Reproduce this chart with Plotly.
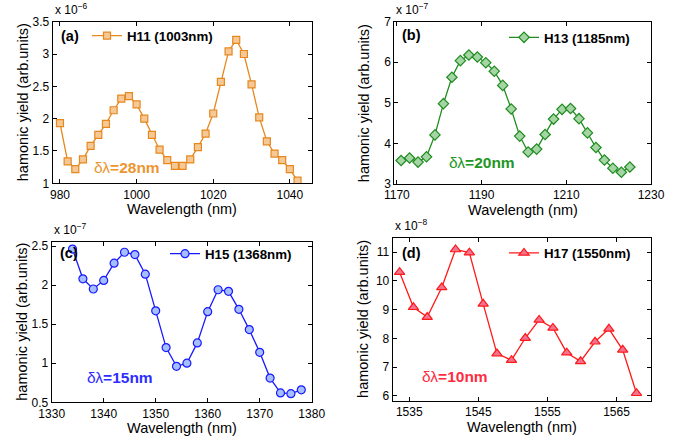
import plotly.graph_objects as go

W, H = 690, 442
FONT = "Liberation Sans"

# ---------------- data ----------------
wl_a = [980, 982, 984, 986, 988, 990, 992, 994, 996, 998, 1000, 1002, 1004, 1006, 1008, 1010,
        1012, 1014, 1016, 1018, 1020, 1022, 1024, 1026, 1028, 1030, 1032, 1034, 1036, 1038, 1040, 1042]
y_a = [1.93, 1.34, 1.22, 1.37, 1.58, 1.75, 1.92, 2.13, 2.31, 2.35, 2.22, 2.00, 1.75, 1.52, 1.36, 1.27,
       1.27, 1.37, 1.56, 1.77, 2.08, 2.57, 3.04, 3.22, 3.00, 2.53, 2.02, 1.65, 1.46, 1.36, 1.22, 1.04]

wl_b = [1171, 1173, 1175, 1177, 1179, 1181, 1183, 1185, 1187, 1189, 1191, 1193, 1195, 1197,
        1199, 1201, 1203, 1205, 1207, 1209, 1211, 1213, 1215, 1217, 1219, 1221, 1223, 1225]
y_b = [3.58, 3.64, 3.54, 3.67, 4.21, 4.98, 5.63, 6.04, 6.18, 6.13, 5.99, 5.78, 5.43, 4.85,
       4.18, 3.79, 3.86, 4.22, 4.60, 4.84, 4.86, 4.61, 4.26, 3.90, 3.59, 3.39, 3.29, 3.42]

wl_c = [1334, 1336, 1338, 1340, 1342, 1344, 1346, 1348, 1350, 1352, 1354, 1356,
        1358, 1360, 1362, 1364, 1366, 1368, 1370, 1372, 1374, 1376, 1378]
y_c = [2.46, 2.08, 1.95, 2.06, 2.28, 2.42, 2.39, 2.14, 1.67, 1.20, 0.96, 1.00,
       1.26, 1.66, 1.94, 1.92, 1.69, 1.43, 1.14, 0.81, 0.62, 0.61, 0.66]

wl_d = [1533.6, 1535.6, 1537.6, 1539.7, 1541.7, 1543.7, 1545.7, 1547.7, 1549.8,
        1551.8, 1553.8, 1555.8, 1557.8, 1559.8, 1561.9, 1563.9, 1565.9, 1567.9]
y_d = [10.30, 9.08, 8.74, 9.77, 11.09, 10.98, 9.20, 7.47, 7.24,
       8.01, 8.64, 8.36, 7.50, 7.20, 7.88, 8.33, 7.60, 6.09]

names = ["H11 (1003nm)", "H13 (1185nm)", "H15 (1368nm)", "H17 (1550nm)"]
panel_labels = ["(a)", "(b)", "(c)", "(d)"]
dl_labels = ["28nm", "20nm", "15nm", "10nm"]
exponents = ["−6", "−7", "−7", "−8"]

xticks = [[980, 1000, 1020, 1040], [1170, 1190, 1210, 1230],
          [1330, 1340, 1350, 1360, 1370, 1380], [1535, 1545, 1555, 1565]]
yticks = [[1, 1.5, 2, 2.5, 3, 3.5], [3, 4, 5, 6, 7],
          [0.5, 1, 1.5, 2, 2.5], [6, 7, 8, 9, 10, 11]]
xranges = [[978.1, 1045.7], [1169.4, 1230], [1330, 1380], [1532.6, 1570]]
yranges = [[1, 3.5], [3, 7], [0.5, 2.555], [5.83, 11.5]]

# ---------------- style ----------------
line_cols = ["rgb(230,136,30)", "rgb(30,140,30)", "rgb(25,25,255)", "rgb(255,25,25)"]
fill_cols = ["rgb(246,200,150)", "rgb(165,212,165)", "rgb(165,190,255)", "rgb(242,115,145)"]
text_cols = ["rgb(236,150,50)", "rgb(35,150,35)", "rgb(45,45,255)", "rgb(255,45,65)"]
symbols = ["square", "diamond", "circle", "triangle-up"]
msizes = [7, 8, 8, 9]

def fx(px):
    return px / W

def fy(py):
    return 1 - py / H

# plot boxes in pixels: (left, right, top, bottom)
boxes = [(52.7, 311.7, 21.7, 183.3), (394.3, 651, 21.7, 184),
         (51.7, 311.7, 241.7, 402.3), (392.7, 651, 237.7, 400.7)]

xs = [wl_a, wl_b, wl_c, wl_d]
ys = [y_a, y_b, y_c, y_d]

fig = go.Figure()
for i in range(4):
    sfx = "" if i == 0 else str(i + 1)
    fig.add_trace(go.Scatter(
        x=xs[i], y=ys[i], mode="lines+markers", name=names[i],
        xaxis="x" + sfx, yaxis="y" + sfx, legend="legend" + sfx, showlegend=True,
        line=dict(color=line_cols[i], width=1.3),
        marker=dict(symbol=symbols[i], size=msizes[i], color=fill_cols[i],
                    line=dict(color=line_cols[i], width=1.2)),
    ))

layout = dict(width=W, height=H, margin=dict(l=0, r=0, t=0, b=0, autoexpand=False),
              showlegend=True,
              paper_bgcolor="white", plot_bgcolor="white",
              font=dict(family=FONT, color="black", size=12))

axis_common = dict(showgrid=False, zeroline=False, showline=True, linecolor="black",
                   linewidth=1, mirror="ticks", ticks="inside", ticklen=4,
                   tickcolor="black", tickwidth=1, automargin=False,
                   tickfont=dict(family=FONT, size=12, color="black"))

legend_pos = [(87, 36), (504, 37.7), (165, 254), (504, 253.3)]
annotations = []
for i in range(4):
    sfx = "" if i == 0 else str(i + 1)
    l, r, t, b = boxes[i]
    layout["xaxis" + sfx] = dict(axis_common, domain=[fx(l), fx(r)], range=xranges[i],
                                 anchor="y" + sfx, tickmode="array", tickvals=xticks[i],
                                 ticktext=[str(v) for v in xticks[i]])
    layout["yaxis" + sfx] = dict(axis_common, domain=[fy(b), fy(t)], range=yranges[i],
                                 anchor="x" + sfx, tickmode="array", tickvals=yticks[i],
                                 ticktext=[("%g" % v) for v in yticks[i]])
    lx, ly = legend_pos[i]
    layout["legend" + sfx] = dict(x=fx(lx), y=fy(ly), xanchor="left", yanchor="middle",
                                  visible=True,
                                  bgcolor="rgba(0,0,0,0)", borderwidth=0,
                                  font=dict(family=FONT, size=13.3, color="black", weight="bold"))
    cx = (l + r) / 2
    # axis titles
    annotations.append(dict(text="Wavelength (nm)", x=fx(cx), y=fy(b + 26), xref="paper", yref="paper",
                            showarrow=False, xanchor="center", yanchor="middle",
                            font=dict(family=FONT, size=14.5, color="black")))
    annotations.append(dict(text="hamonic yield (arb.units)", x=fx(l - 30), y=fy((t + b) / 2),
                            xref="paper", yref="paper", showarrow=False, textangle=-90,
                            xanchor="center", yanchor="middle",
                            font=dict(family=FONT, size=14.5, color="black")))
    # exponent label
    annotations.append(dict(text="x 10<sup>%s</sup>" % exponents[i], x=fx(l), y=fy(t - 3),
                            xref="paper", yref="paper", showarrow=False, xanchor="left",
                            yanchor="bottom", font=dict(family=FONT, size=12, color="black")))

panel_pos = [(59, 36), (400, 35), (58, 253), (400, 253)]
dl_pos = [(92, 167), (446.7, 162), (85, 377), (420, 376)]
for i in range(4):
    px, py = panel_pos[i]
    annotations.append(dict(text="<b>%s</b>" % panel_labels[i], x=fx(px), y=fy(py), xref="paper",
                            yref="paper", showarrow=False, xanchor="left", yanchor="middle",
                            font=dict(family=FONT, size=14.5, color="black")))
    px, py = dl_pos[i]
    annotations.append(dict(text="δλ<b>=%s</b>" % dl_labels[i], x=fx(px), y=fy(py), xref="paper",
                            yref="paper", showarrow=False, xanchor="left", yanchor="middle",
                            font=dict(family=FONT, size=15.5, color=text_cols[i])))

layout["annotations"] = annotations
fig.update_layout(**layout)
fig.write_html("out.html", config={"displayModeBar": False},
               post_script="document.body.style.margin='0px';document.body.style.overflow='hidden';")
